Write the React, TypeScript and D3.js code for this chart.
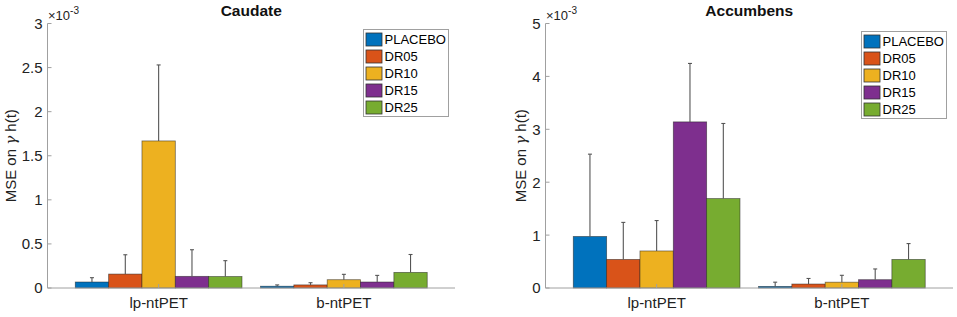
import React from "react";
import * as d3 from "d3";

const groups = ["lp-ntPET", "b-ntPET"];
const series = ["PLACEBO", "DR05", "DR10", "DR15", "DR25"];
const colors = ["#0072BD", "#D95319", "#EDB120", "#7E2F8E", "#77AC30"];

// values in units of 1e-3, [lp-ntPET, b-ntPET] per series
const caudateMean = [
  [0.068, 0.02],
  [0.158, 0.035],
  [1.668, 0.094],
  [0.132, 0.068],
  [0.13, 0.177],
];
const caudateErr = [
  [0.117, 0.035],
  [0.377, 0.06],
  [2.53, 0.155],
  [0.434, 0.143],
  [0.31, 0.38],
];
const accMean = [
  [0.974, 0.03],
  [0.54, 0.075],
  [0.7, 0.11],
  [3.14, 0.157],
  [1.69, 0.54],
];
const accErr = [
  [2.53, 0.11],
  [1.24, 0.18],
  [1.275, 0.24],
  [4.245, 0.36],
  [3.11, 0.84],
];
const caudateTicks = [0, 0.5, 1, 1.5, 2, 2.5, 3];
const accTicks = [0, 1, 2, 3, 4, 5];

const FONT = "'Liberation Sans', Arial, sans-serif";

type PanelProps = {
  title: string;
  left: number;
  right: number;
  yMax: number;
  ticks: number[];
  means: number[][];
  errs: number[][];
  legendX: number;
  legendY: number;
  labelX: number;
};

function Panel(p: PanelProps) {
  const top = 23.5;
  const bottom = 288;
  const x = d3.scaleLinear().domain([0.4, 2.6]).range([p.left, p.right]);
  const y = d3.scaleLinear().domain([0, p.yMax]).range([bottom, top]);
  const barW = 0.18;
  const axisColor = "#a0a0a0";
  const fmt = (v: number) => String(v);
  return (
    <g>
      <text
        x={(p.left + p.right) / 2}
        y={16}
        textAnchor="middle"
        fontWeight="bold"
        fontSize={15.5}
        fontFamily={FONT}
        fill="#111"
      >
        {p.title}
      </text>
      {/* bars */}
      {series.map((s, si) =>
        groups.map((g, gi) => {
          const cx = gi + 1 + (si - 2) * barW;
          const x0 = x(cx - barW / 2);
          const x1 = x(cx + barW / 2);
          const yv = y(p.means[si][gi]);
          return (
            <rect
              key={s + g}
              x={x0}
              y={yv}
              width={x1 - x0}
              height={bottom - yv}
              fill={colors[si]}
              stroke="#222"
              strokeOpacity={0.6}
              strokeWidth={0.8}
            />
          );
        })
      )}
      {/* error bars */}
      {series.map((s, si) =>
        groups.map((g, gi) => {
          const cx = x(gi + 1 + (si - 2) * barW);
          const y0 = y(p.means[si][gi]);
          const y1 = y(p.errs[si][gi]);
          return (
            <g key={"e" + s + g} stroke="#555" strokeWidth={1.1}>
              <line x1={cx} x2={cx} y1={y0} y2={y1} />
              <line x1={cx - 2} x2={cx + 2} y1={y1} y2={y1} />
            </g>
          );
        })
      )}
      {/* axes */}
      <line x1={p.left} x2={p.left} y1={top} y2={bottom} stroke={axisColor} strokeWidth={1} />
      <line x1={p.left} x2={p.right} y1={bottom} y2={bottom} stroke={axisColor} strokeWidth={1} />
      {p.ticks.map((t) => (
        <g key={"t" + t}>
          <line x1={p.left} x2={p.left + 4} y1={y(t)} y2={y(t)} stroke={axisColor} />
          <text
            x={p.left - 5}
            y={y(t)}
            dy="0.36em"
            textAnchor="end"
            fontSize={15}
            fontFamily={FONT}
            fill="#222"
          >
            {fmt(t)}
          </text>
        </g>
      ))}
      {groups.map((g, gi) => (
        <g key={"g" + g}>
          <line x1={x(gi + 1)} x2={x(gi + 1)} y1={bottom} y2={bottom - 4} stroke={axisColor} />
          <text
            x={x(gi + 1)}
            y={307.5}
            textAnchor="middle"
            fontSize={15}
            fontFamily={FONT}
            fill="#222"
          >
            {g}
          </text>
        </g>
      ))}
      {/* exponent */}
      <text x={p.left + 0.5} y={19.5} fontSize={13} fontFamily={FONT} fill="#222">
        ×10
        <tspan dy={-6} fontSize={10}>
          -3
        </tspan>
      </text>
      {/* y label */}
      <text
        transform={`translate(${p.labelX},${(top + bottom) / 2}) rotate(-90)`}
        textAnchor="middle"
        fontSize={15}
        fontFamily={FONT}
        fill="#222"
        dy="0.35em"
      >
        MSE on <tspan fontStyle="italic" fontFamily="'DejaVu Serif', serif">γ</tspan> h(t)
      </text>
      {/* legend */}
      <g transform={`translate(${p.legendX},${p.legendY})`}>
        <rect x={0} y={0} width={85} height={87} fill="white" stroke="#a0a0a0" />
        {series.map((s, si) => (
          <g key={"l" + s} transform={`translate(0,${3.5 + si * 17})`}>
            <rect x={2.5} y={0} width={16} height={13} fill={colors[si]} stroke="#333" strokeWidth={0.8} />
            <text x={21} y={6.8} dy="0.35em" fontSize={13} fontFamily={FONT} fill="#000">
              {s}
            </text>
          </g>
        ))}
      </g>
    </g>
  );
}

export default function App() {
  return (
    <svg
      width={957}
      height={317}
      style={{ position: "absolute", left: 0, top: 0, background: "white" }}
    >
      <rect width={957} height={317} fill="white" />
      <Panel
        title="Caudate"
        left={47.5}
        right={455}
        yMax={3}
        ticks={caudateTicks}
        means={caudateMean}
        errs={caudateErr}
        legendX={363.5}
        legendY={29.5}
        labelX={11}
      />
      <Panel
        title="Accumbens"
        left={545.5}
        right={953}
        yMax={5}
        ticks={accTicks}
        means={accMean}
        errs={accErr}
        legendX={861.5}
        legendY={31.5}
        labelX={521}
      />
    </svg>
  );
}
